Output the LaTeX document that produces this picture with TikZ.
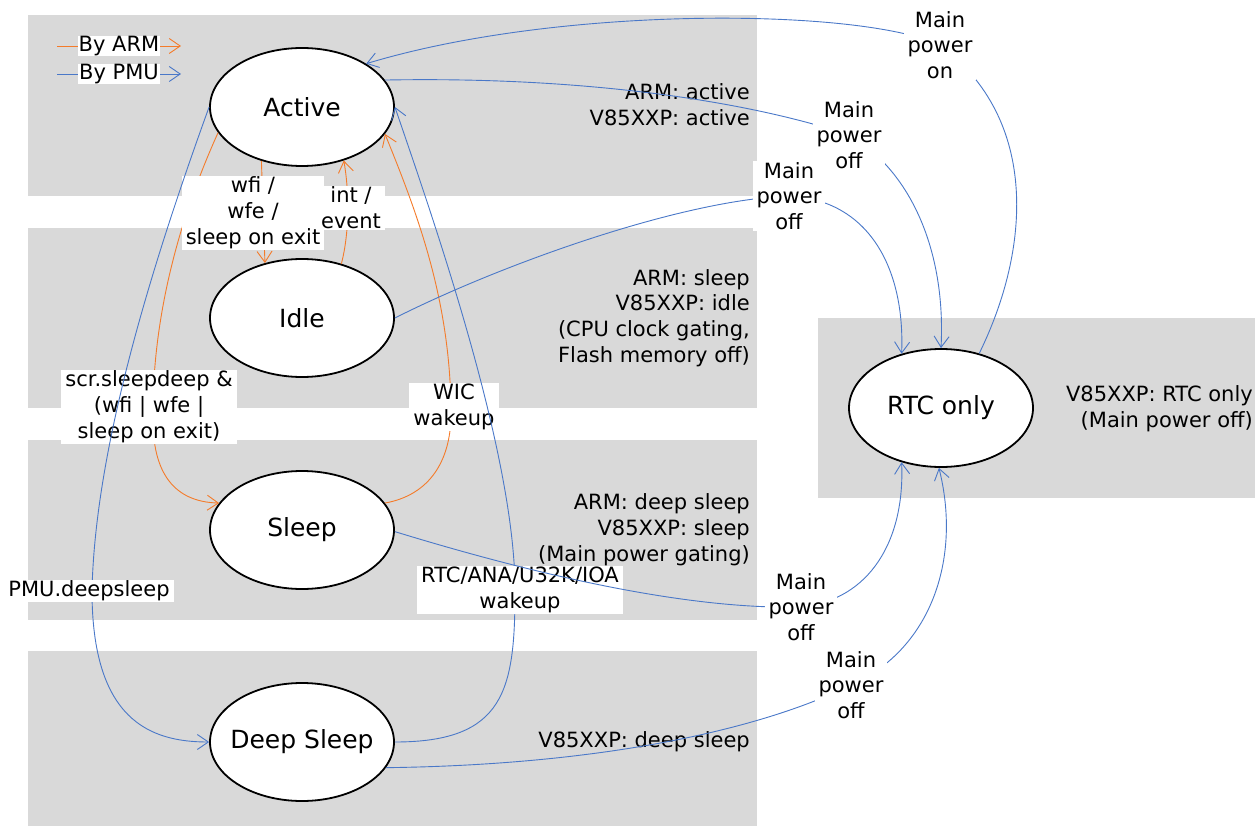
\documentclass[tikz,border=0pt]{standalone}
\usepackage{fontspec}
\setmainfont{DejaVu Sans}
\usetikzlibrary{shapes.geometric,arrows.meta}
\definecolor{band}{HTML}{D9D9D9}
\definecolor{armc}{HTML}{F47B2A}
\definecolor{pmuc}{HTML}{4A78C8}

\begin{document}
\begin{tikzpicture}[x=1pt,y=-1pt,
  state/.style={ellipse,draw,line width=1.8pt,fill=white,
    minimum width=184pt,minimum height=118pt,inner sep=0pt,
    font=\fontsize{25}{30}\selectfont},
  note/.style={anchor=east,align=right,inner sep=0pt,
    font=\fontsize{21}{25.8}\selectfont},
  tag/.style={fill=white,align=center,inner xsep=4pt,inner ysep=1pt,
    font=\fontsize{21}{25.8}\selectfont},
  tip/.style={-{Straight Barb[length=11pt,width=15pt]}},
  arm/.style={draw=armc,line width=0.9pt,tip},
  pmu/.style={draw=pmuc,line width=0.9pt,tip}]

\useasboundingbox (0,0) rectangle (1255,826);

% state bands
\fill[band] (28,15) rectangle (757,196);
\fill[band] (28,228) rectangle (757,408);
\fill[band] (28,440) rectangle (757,620);
\fill[band] (28,651) rectangle (757,826);
\fill[band] (818,318) rectangle (1255,498);

% band descriptions
\node[note] (nact) at (750,105) {ARM: active\\V85XXP: active};
\node[note] (nidle) at (750,318) {ARM: sleep\\V85XXP: idle\\(CPU clock gating,\\Flash memory off)};
\node[note] (nslp) at (750,530) {ARM: deep sleep\\V85XXP: sleep\\(Main power gating)};
\node[note] (ndeep) at (750,742) {V85XXP: deep sleep};
\node[note] (nrtc) at (1253,409) {V85XXP: RTC only\\(Main power off)};

% legend
\coordinate (la1) at (57,46);  \coordinate (la2) at (181,46);
\coordinate (lp1) at (57,74);  \coordinate (lp2) at (181,74);
\draw[arm] (la1) -- (la2);
\draw[pmu] (lp1) -- (lp2);
\node[tag,inner ysep=0pt,inner xsep=1pt] (lga) at (119,46) {By ARM};
\node[tag,inner ysep=0pt,inner xsep=1pt] (lgp) at (119,74) {By PMU};

% states (text kept out of the shape size)
\node[state] (act)  at (302,107) {\makebox[0pt]{Active}};
\node[state] (idle) at (302,318) {\makebox[0pt]{Idle}};
\node[state] (slp)  at (302,530) {\makebox[0pt]{Sleep}};
\node[state] (deep) at (302,742) {\makebox[0pt]{Deep Sleep}};
\node[state] (rtc)  at (941,408) {\makebox[0pt]{RTC only}};

% transitions by the ARM core
\coordinate (scrM) at (153,420);
\coordinate (wicM) at (451,410);
\draw[arm] (act.233) -- (idle.124);
\draw[arm] (idle.54) .. controls (350,230) and (349,190) .. (act.308);
\draw[arm] (act.197) .. controls (165,250) and (152,350) .. (scrM)
  .. controls (153,480) and (180,502) .. (slp.162);
\draw[arm] (slp.18) .. controls (430,495) and (452,460) .. (wicM)
  .. controls (450,300) and (418,215) .. (act.342);

\node[tag] (twfi) at (253,213) {wfi /\\wfe /\\sleep on exit};
\node[tag] (tint) at (351,208) {int /\\event};
\node[tag] (tscr) at (149,407) {scr.sleepdeep \&\\(wfi | wfe |\\sleep on exit)};
\node[tag] (twic) at (454,407) {WIC\\wakeup};

% transitions by the PMU
\coordinate (pmuM) at (92,591);
\coordinate (wkM) at (515,590);
\coordinate (offA) at (849,135);
\coordinate (offI) at (789,196);
\coordinate (offD) at (851,685);
\coordinate (onM) at (940,45);
\draw[pmu] (act.180) .. controls (150,270) and (95,450) .. (pmuM)
  .. controls (92,720) and (150,742) .. (deep.180);
\draw[pmu] (deep.0) .. controls (505,742) and (515,690) .. (wkM)
  .. controls (515,450) and (430,210) .. (act.0);
\draw[pmu] (act.18) .. controls (600,76) and (760,105) .. (offA)
  .. controls (910,170) and (946,250) .. (rtc.90);
\draw[pmu] (idle.0) .. controls (500,265) and (680,200) .. (offI)
  .. controls (870,200) and (905,270) .. (rtc.126);
\draw[pmu] (deep.343) .. controls (600,765) and (760,730) .. (offD)
  .. controls (930,650) and (962,560) .. (rtc.268);
\draw[pmu] (rtc.55) .. controls (1030,250) and (1040,120) .. (onM)
  .. controls (860,8) and (560,5) .. (act.34);

\node[tag] (tpmu) at (89,591) {PMU.deepsleep};
\node[tag] (twk) at (520,590) {RTC/ANA/U32K/IOA\\wakeup};
\node[tag] (tonm) at (onM) {Main\\power\\on};
\node[tag] (toffa) at (offA) {Main\\power\\off};
\node[tag] (toffi) at (offI) {Main\\power\\off};
\node[tag] (toffd) at (offD) {Main\\power\\off};

% sleep to RTC only, drawn over the wakeup label
\coordinate (offS) at (801,607);
\draw[pmu] (slp.-1) .. controls (520,570) and (680,610) .. (offS)
  .. controls (870,600) and (905,540) .. (rtc.234);
\node[tag] (toffs) at (offS) {Main\\power\\off};
\end{tikzpicture}
\end{document}
